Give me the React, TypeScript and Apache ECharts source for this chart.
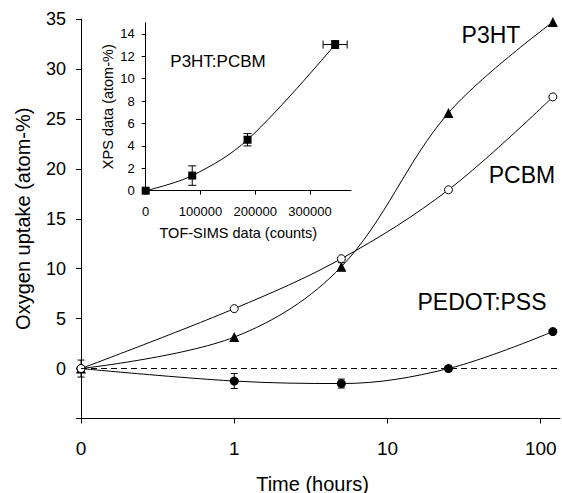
import React, { useEffect, useRef } from "react";
import * as echarts from "echarts";

// ---------- Main chart data ----------
const timeHours = [0, 1, 5, 25, 120];
const p3ht = [0, 3.15, 10.2, 25.6, 34.7];
const p3htErr = [0.85, 0, 0.4, 0, 0];
const pcbm = [0, 6.0, 11.0, 17.9, 27.2];
const pcbmErr = [0, 0, 0, 0, 0];
const pedot = [0, -1.25, -1.5, 0.0, 3.7];
const pedotErr = [0, 0.75, 0.45, 0.25, 0];
const mainXTickValues = [0.1, 1, 10, 100];
const mainXTickLabels = ["0", "1", "10", "100"];

// ---------- Inset data ----------
const tofSims = [0, 85000, 186000, 346000];
const tofSimsErr = [0, 0, 0, 22000];
const xps = [0, 1.35, 4.55, 13.05];
const xpsErr = [0, 0.87, 0.55, 0.35];
const insetXTicks = [0, 100000, 200000, 300000];
const insetYTicks = [0, 2, 4, 6, 8, 10, 12, 14];

// the "0 hours" point sits at the axis origin (one decade below 1)
const ZERO_POS = 0.1;
const toAxisX = (t: number) => (t === 0 ? ZERO_POS : t);

const FONT = "Liberation Sans, Arial, sans-serif";

function errorBars(
  xs: number[],
  ys: number[],
  yErr: number[],
  xErr: number[] | null,
  axisIndex: number,
  cap: number
) {
  return {
    type: "custom",
    xAxisIndex: axisIndex,
    yAxisIndex: axisIndex,
    z: 1,
    silent: true,
    clip: false,
    encode: { x: 0, y: 1 },
    data: xs.map((x, i) => [x, ys[i], yErr[i], xErr ? xErr[i] : 0]),
    renderItem: (_params: any, api: any) => {
      const x = api.value(0);
      const y = api.value(1);
      const ey = api.value(2);
      const ex = api.value(3);
      const c = api.coord([x, y]);
      const st = { stroke: "#000", lineWidth: 1, fill: "none" };
      const children: any[] = [];
      if (ey > 0) {
        const t = api.coord([x, y + ey]);
        const b = api.coord([x, y - ey]);
        children.push({ type: "line", shape: { x1: c[0], y1: t[1], x2: c[0], y2: b[1] }, style: st });
        children.push({ type: "line", shape: { x1: c[0] - cap, y1: t[1], x2: c[0] + cap, y2: t[1] }, style: st });
        children.push({ type: "line", shape: { x1: c[0] - cap, y1: b[1], x2: c[0] + cap, y2: b[1] }, style: st });
      }
      if (ex > 0) {
        const l = api.coord([x - ex, y]);
        const r = api.coord([x + ex, y]);
        children.push({ type: "line", shape: { x1: l[0], y1: c[1], x2: r[0], y2: c[1] }, style: st });
        children.push({ type: "line", shape: { x1: l[0], y1: c[1] - cap, x2: l[0], y2: c[1] + cap }, style: st });
        children.push({ type: "line", shape: { x1: r[0], y1: c[1] - cap, x2: r[0], y2: c[1] + cap }, style: st });
      }
      return { type: "group", children };
    },
  };
}

export default function App() {
  const ref = useRef<HTMLDivElement>(null);

  useEffect(() => {
    if (!ref.current) return;
    const chart = echarts.init(ref.current, undefined, { renderer: "svg" });
    const xs = timeHours.map(toAxisX);
    const black = "#000";
    const axisLine = { show: true, onZero: false, lineStyle: { color: black, width: 1 } };

    const option: any = {
      animation: false,
      backgroundColor: "#fff",
      textStyle: { fontFamily: FONT },
      grid: [
        { left: 81, top: 19, width: 479, height: 399.5, containLabel: false, outerBoundsMode: "none" },
        { left: 145.7, top: 22.7, width: 205.3, height: 168, containLabel: false, outerBoundsMode: "none" },
      ],
      xAxis: [
        {
          type: "log",
          gridIndex: 0,
          logBase: 10,
          min: ZERO_POS,
          max: 133.6,
          axisLine,
          axisTick: { show: true, length: 5, customValues: mainXTickValues, lineStyle: { color: black } },
          minorTick: { show: false },
          splitLine: { show: false },
          axisLabel: {
            customValues: mainXTickValues,
            margin: 20,
            fontSize: 19,
            color: black,
            fontFamily: FONT,
            formatter: (v: number) => {
              const i = mainXTickValues.findIndex((t) => Math.abs(Math.log10(t) - Math.log10(v)) < 1e-6);
              return i >= 0 ? mainXTickLabels[i] : "";
            },
          },
          name: "Time (hours)",
          nameLocation: "middle",
          nameGap: 55,
          nameTextStyle: { fontSize: 20, color: black, fontFamily: FONT, padding: [0, 16, 0, 0] },
        },
        {
          type: "value",
          gridIndex: 1,
          min: 0,
          max: 375000,
          interval: 100000,
          axisLine,
          axisTick: { show: true, length: 4, customValues: insetXTicks, lineStyle: { color: black } },
          splitLine: { show: false },
          axisLabel: {
            customValues: insetXTicks,
            margin: 14,
            fontSize: 13,
            color: black,
            fontFamily: FONT,
            formatter: (v: number) => String(Math.round(v)),
          },
          name: "TOF-SIMS data (counts)",
          nameLocation: "middle",
          nameGap: 35,
          nameTextStyle: { fontSize: 14.5, color: black, fontFamily: FONT, padding: [0, 20, 0, 0] },
        },
      ],
      yAxis: [
        {
          type: "value",
          gridIndex: 0,
          min: -5,
          max: 35,
          interval: 5,
          axisLine,
          axisTick: { show: true, length: 5, lineStyle: { color: black } },
          splitLine: { show: false },
          axisLabel: {
            margin: 15,
            fontSize: 18,
            color: black,
            fontFamily: FONT,
            formatter: (v: number) => (v < 0 ? "" : String(v)),
          },
          name: "Oxygen uptake (atom-%)",
          nameLocation: "middle",
          nameGap: 48,
          nameTextStyle: { fontSize: 20, color: black, fontFamily: FONT },
        },
        {
          type: "value",
          gridIndex: 1,
          min: 0,
          max: 15,
          interval: 2,
          axisLine,
          axisTick: { show: true, length: 4, customValues: insetYTicks, lineStyle: { color: black } },
          splitLine: { show: false },
          axisLabel: {
            customValues: insetYTicks,
            margin: 11,
            fontSize: 13,
            color: black,
            fontFamily: FONT,
          },
          name: "XPS data (atom-%)",
          nameLocation: "middle",
          nameGap: 30,
          nameTextStyle: { fontSize: 14.5, color: black, fontFamily: FONT },
        },
      ],
      series: [
        errorBars(xs, p3ht, p3htErr, null, 0, 3.5),
        errorBars(xs, pcbm, pcbmErr, null, 0, 3.5),
        errorBars(xs, pedot, pedotErr, null, 0, 3.5),
        {
          name: "PEDOT:PSS",
          type: "line",
          xAxisIndex: 0,
          yAxisIndex: 0,
          smooth: 0.35,
          data: xs.map((x, i) => [x, pedot[i]]),
          symbol: "circle",
          symbolSize: 9,
          itemStyle: { color: black },
          lineStyle: { color: black, width: 1 },
          z: 3,
          markLine: {
            silent: true,
            symbol: "none",
            label: { show: false },
            lineStyle: { color: black, width: 1, type: [6, 4] },
            data: [{ yAxis: 0 }],
          },
        },
        {
          name: "P3HT",
          type: "line",
          xAxisIndex: 0,
          yAxisIndex: 0,
          smooth: 0.35,
          data: xs.map((x, i) => [x, p3ht[i]]),
          symbol: "triangle",
          symbolSize: 10,
          itemStyle: { color: black },
          lineStyle: { color: black, width: 1 },
          z: 3,
        },
        {
          name: "PCBM",
          type: "line",
          xAxisIndex: 0,
          yAxisIndex: 0,
          smooth: 0.35,
          data: xs.map((x, i) => [x, pcbm[i]]),
          symbol: "circle",
          symbolSize: 8,
          itemStyle: { color: "#fff", borderColor: black, borderWidth: 1 },
          lineStyle: { color: black, width: 1 },
          z: 4,
        },
        errorBars(tofSims, xps, xpsErr, tofSimsErr, 1, 4),
        {
          name: "P3HT:PCBM",
          type: "line",
          xAxisIndex: 1,
          yAxisIndex: 1,
          smooth: 0.35,
          data: tofSims.map((x, i) => [x, xps[i]]),
          symbol: "rect",
          symbolSize: 8,
          itemStyle: { color: black },
          lineStyle: { color: black, width: 1 },
          z: 3,
        },
      ],
      graphic: [
        { type: "text", x: 491, y: 35, style: { text: "P3HT", fontSize: 23, fontFamily: FONT, fill: black, align: "center", verticalAlign: "middle" } },
        { type: "text", x: 522, y: 175, style: { text: "PCBM", fontSize: 23, fontFamily: FONT, fill: black, align: "center", verticalAlign: "middle" } },
        { type: "text", x: 482, y: 302, style: { text: "PEDOT:PSS", fontSize: 23, fontFamily: FONT, fill: black, align: "center", verticalAlign: "middle" } },
        { type: "text", x: 218, y: 61, style: { text: "P3HT:PCBM", fontSize: 17, fontFamily: FONT, fill: black, align: "center", verticalAlign: "middle" } },
      ],
    };

    chart.setOption(option);
    return () => chart.dispose();
  }, []);

  return (
    <div
      ref={ref}
      style={{ position: "absolute", left: 0, top: 0, width: 562, height: 493 }}
    />
  );
}
